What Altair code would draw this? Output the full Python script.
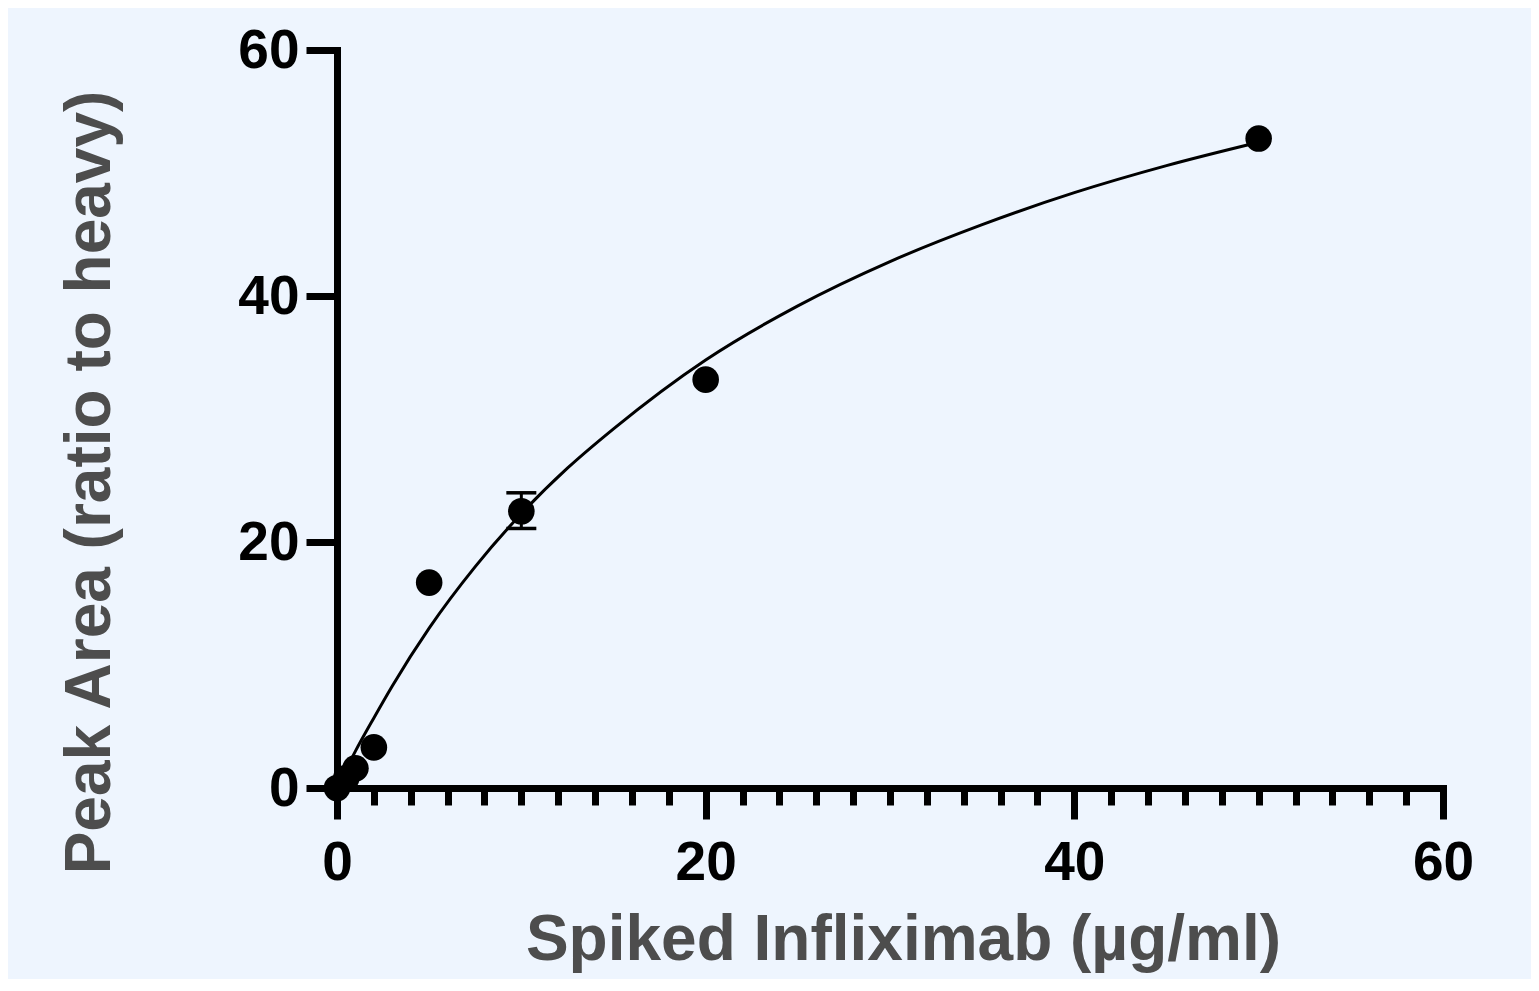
import altair as alt
import pandas as pd

# measured points
x_vals = [0, 0.5, 1, 2, 5, 10, 20, 50]
y_vals = [0, 0.8, 1.6, 3.3, 16.7, 22.5, 33.2, 52.8]

# error bar (only visible at x = 10)
err_x = [10]
err_lo = [21.1]
err_hi = [24.0]

# fitted curve
curve_x = [0, 1, 2, 3, 5, 7.5, 10, 12.5, 15, 20, 25, 30, 35, 40, 45, 50]
curve_y = [0, 3.0, 5.7, 8.3, 13.0, 18.0, 22.3, 26.0, 29.2, 34.8, 39.2, 42.8, 45.8, 48.4, 50.6, 52.5]

# axis ticks
x_major = [0, 20, 40, 60]
x_minor = [2, 4, 6, 8, 10, 12, 14, 16, 18, 22, 24, 26, 28, 30, 32, 34, 36, 38,
           42, 44, 46, 48, 50, 52, 54, 56, 58]
y_ticks = [0, 20, 40, 60]

pts = pd.DataFrame({"x": x_vals, "y": y_vals})
curve = pd.DataFrame({"x": curve_x, "y": curve_y})
err = pd.DataFrame({"x": err_x, "lo": err_lo, "hi": err_hi})

FONT = "Liberation Sans"
TITLE_COLOR = "#4D4D4D"
LW = 7

xscale = alt.Scale(domain=[0, 60], nice=False, zero=False)
yscale = alt.Scale(domain=[0, 60], nice=False, zero=False)

major_x_axis = alt.Axis(
    orient="bottom",
    values=x_major, tickSize=31, tickWidth=LW, tickColor="black",
    domain=True, domainWidth=LW, domainColor="black", domainCap="square",
    labelFont=FONT, labelFontSize=55, labelFontWeight="bold", labelColor="black",
    labelPadding=17, labelFlush=False, labelOverlap=False,
    title="Spiked Infliximab (µg/ml)", titleFont=FONT, titleFontSize=64,
    titleFontWeight="bold", titleColor=TITLE_COLOR,
    titleX=566, titleY=152, titleAlign="center", titleBaseline="middle",
    grid=False,
)

minor_x_axis = alt.Axis(
    orient="bottom",
    values=x_minor, tickSize=17, tickWidth=LW, tickColor="black",
    domain=False, labels=False, title=None, grid=False,
)

y_axis = alt.Axis(
    orient="left",
    values=y_ticks, tickSize=31, tickWidth=LW, tickColor="black",
    domain=True, domainWidth=LW, domainColor="black", domainCap="square",
    labelFont=FONT, labelFontSize=55, labelFontWeight="bold", labelColor="black",
    labelPadding=7, labelFlush=False, labelOverlap=False,
    title="Peak Area (ratio to heavy)", titleFont=FONT, titleFontSize=64,
    titleFontWeight="bold", titleColor=TITLE_COLOR,
    titleX=-247, titleY=432, titleAlign="center", titleBaseline="middle",
    titleAngle=270, grid=False,
)

line = alt.Chart(curve).mark_line(color="black", strokeWidth=3, interpolate="monotone").encode(
    x=alt.X("x:Q", scale=xscale, axis=major_x_axis),
    y=alt.Y("y:Q", scale=yscale, axis=y_axis),
)

rule = alt.Chart(err).mark_rule(color="black", strokeWidth=3).encode(
    x=alt.X("x:Q", scale=xscale, axis=None),
    y=alt.Y("lo:Q", scale=yscale, axis=y_axis),
    y2="hi:Q",
)
cap_lo = alt.Chart(err).mark_tick(color="black", orient="horizontal", size=30, thickness=3.5, opacity=1).encode(
    x=alt.X("x:Q", scale=xscale, axis=None),
    y=alt.Y("lo:Q", scale=yscale, axis=y_axis),
)
cap_hi = alt.Chart(err).mark_tick(color="black", orient="horizontal", size=30, thickness=3.5, opacity=1).encode(
    x=alt.X("x:Q", scale=xscale, axis=None),
    y=alt.Y("hi:Q", scale=yscale, axis=y_axis),
)

points = alt.Chart(pts).mark_circle(color="black", size=707, opacity=1).encode(
    x=alt.X("x:Q", scale=xscale, axis=minor_x_axis),
    y=alt.Y("y:Q", scale=yscale, axis=y_axis),
)

chart = alt.layer(line, rule, cap_lo, cap_hi, points).resolve_axis(
    x="independent"
).properties(
    width=1106, height=738,
    autosize=alt.AutoSizeParams(type="none"),
    padding={"left": 329, "top": 42, "right": 88, "bottom": 191},
    background="#EEF5FE",
).configure_view(stroke=None)

chart.save("out.html", embed_options={"renderer": "svg", "actions": False})
